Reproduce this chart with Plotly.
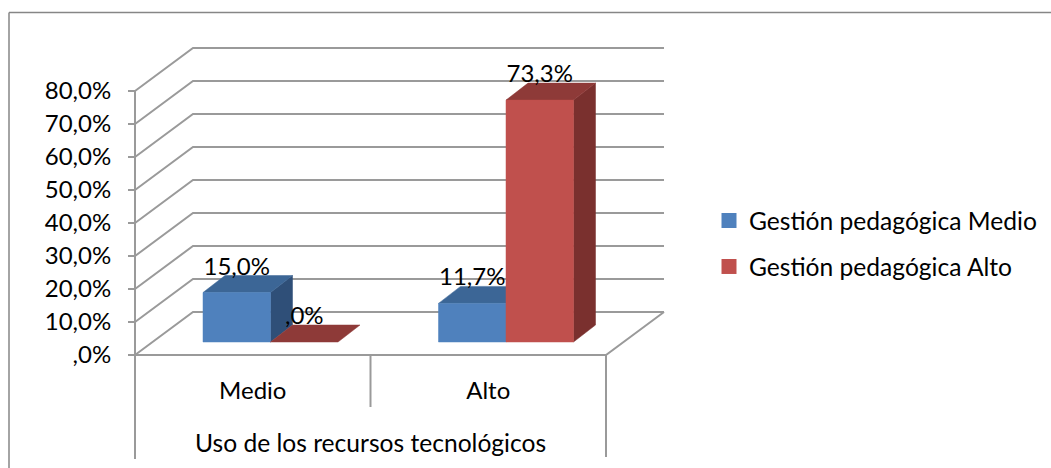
import plotly.graph_objects as go

categories = ["Medio", "Alto"]
series_names = ["Gestión pedagógica Medio", "Gestión pedagógica Alto"]
gestion_medio = [15.0, 11.7]
gestion_alto = [0.0, 73.3]
tick_values = [0, 10, 20, 30, 40, 50, 60, 70, 80]
tick_labels = [",0%", "10,0%", "20,0%", "30,0%", "40,0%", "50,0%", "60,0%", "70,0%", "80,0%"]
axis_title = "Uso de los recursos tecnológicos"

W, H = 1051, 468
PX_X = 235.5  # px per category
PX_Y = 3.3    # px per percent
X0, Y0 = 135, 355
FONT = "Lato"
FS = 24
FS_WIDE = 24.6
GRID = "#9a9a9a"

def ux(px):
    return px / PX_X

def uy(px):
    return px / PX_Y

wall_dx, wall_dy = ux(58), uy(43)
bar_dx, bar_dy = ux(22), uy(17)
bar_left, bar_w = ux(68), ux(67.5)
bar_base = uy(13)
label_gap = uy(24)

fig = go.Figure()

def line(xs, ys):
    fig.add_trace(go.Scatter(x=xs, y=ys, mode="lines", showlegend=False, hoverinfo="skip",
                             line=dict(color=GRID, width=2)))

def face(xs, ys, color):
    fig.add_trace(go.Scatter(x=xs + xs[:1], y=ys + ys[:1], mode="lines", fill="toself", fillcolor=color,
                             line=dict(color=color, width=0.5), showlegend=False, hoverinfo="skip"))

n = len(categories)
# walls and floor
for v in tick_values:
    line([0, wall_dx, n + wall_dx], [v, v + wall_dy, v + wall_dy])
line([0, 0], [0, 80])
line([0, n, n + wall_dx], [0, 0, wall_dy])
line([0, 0], [0, uy(-104)])
line([1, 1], [0, uy(-52)])
line([n, n], [0, uy(-102)])

styles = [("#4F81BD", "#3C6696", "#2F4F78"), ("#C0504D", "#8E3A38", "#7A302E")]
labels = []
for c in range(n):
    for s, values in enumerate([gestion_medio, gestion_alto]):
        v = values[c]
        l = c + bar_left + s * bar_w
        r = l + bar_w
        top = bar_base + v
        front, upper, side = styles[s]
        if v > 0:
            face([r, r + bar_dx, r + bar_dx, r], [bar_base, bar_base + bar_dy, top + bar_dy, top], side)
        face([l, r, r + bar_dx, l + bar_dx], [top, top, top + bar_dy, top + bar_dy], upper)
        if v > 0:
            face([l, r, r, l], [bar_base, bar_base, top, top], front)
        txt = f"{v:.1f}%".replace(".", ",")
        if v == 0:
            txt = ",0%"
        labels.append((l + bar_w / 2, top + label_gap, txt))

fig.add_trace(go.Scatter(x=[p[0] for p in labels], y=[p[1] for p in labels], text=[p[2] for p in labels],
                         mode="text", textposition="middle center", showlegend=False, hoverinfo="skip",
                         cliponaxis=False, textfont=dict(family=FONT, size=FS, color="#000000")))

# legend entries
for i, name in enumerate(series_names):
    fig.add_trace(go.Scatter(x=[None], y=[None], mode="markers", name=name, legendgroup=name,
                             marker=dict(symbol="square", size=15, color=styles[i][0])))

fig.update_layout(
    width=W, height=H, autosize=False,
    margin=dict(l=0, r=0, t=0, b=0),
    paper_bgcolor="white", plot_bgcolor="white",
    font=dict(family=FONT, size=FS, color="#000000"),
    xaxis=dict(range=[-X0 / PX_X, (W - X0) / PX_X], domain=[0, 1], anchor="free",
               position=(H - Y0) / H, tickvals=[i + 0.5 for i in range(n)], ticktext=categories,
               ticks="", showgrid=False, zeroline=False, showline=False, ticklabelstandoff=19,
               tickfont=dict(family=FONT, size=FS, color="#000000")),
    yaxis=dict(range=[-(H - Y0) / PX_Y, Y0 / PX_Y], domain=[0, 1], anchor="free",
               position=X0 / W, tickvals=tick_values, ticktext=tick_labels,
               ticks="outside", ticklen=7, tickwidth=2, tickcolor=GRID, ticklabelstandoff=12,
               showgrid=False, zeroline=False, showline=False,
               tickfont=dict(family=FONT, size=FS, color="#000000")),
    legend=dict(x=709 / W, y=1 - 198 / H, xanchor="left", yanchor="top", tracegroupgap=11,
                traceorder="grouped", bgcolor="rgba(0,0,0,0)", font=dict(family=FONT, size=FS_WIDE, color="#000000")),
    showlegend=True,
    annotations=[dict(x=1, y=uy(-87), xref="x", yref="y", text=axis_title, showarrow=False,
                      font=dict(family=FONT, size=FS_WIDE, color="#000000"))],
    shapes=[dict(type="line", xref="paper", yref="paper", x0=9 / W, x1=1, y0=1 - 12.5 / H, y1=1 - 12.5 / H,
                 line=dict(color="#868686", width=1.5)),
            dict(type="line", xref="paper", yref="paper", x0=9 / W, x1=9 / W, y0=0, y1=1 - 12.5 / H,
                 line=dict(color="#868686", width=1.5))],
)
fig.write_html("out.html", config=dict(displayModeBar=False),
               post_script='document.body.style.margin="0";document.body.style.overflow="hidden";')
